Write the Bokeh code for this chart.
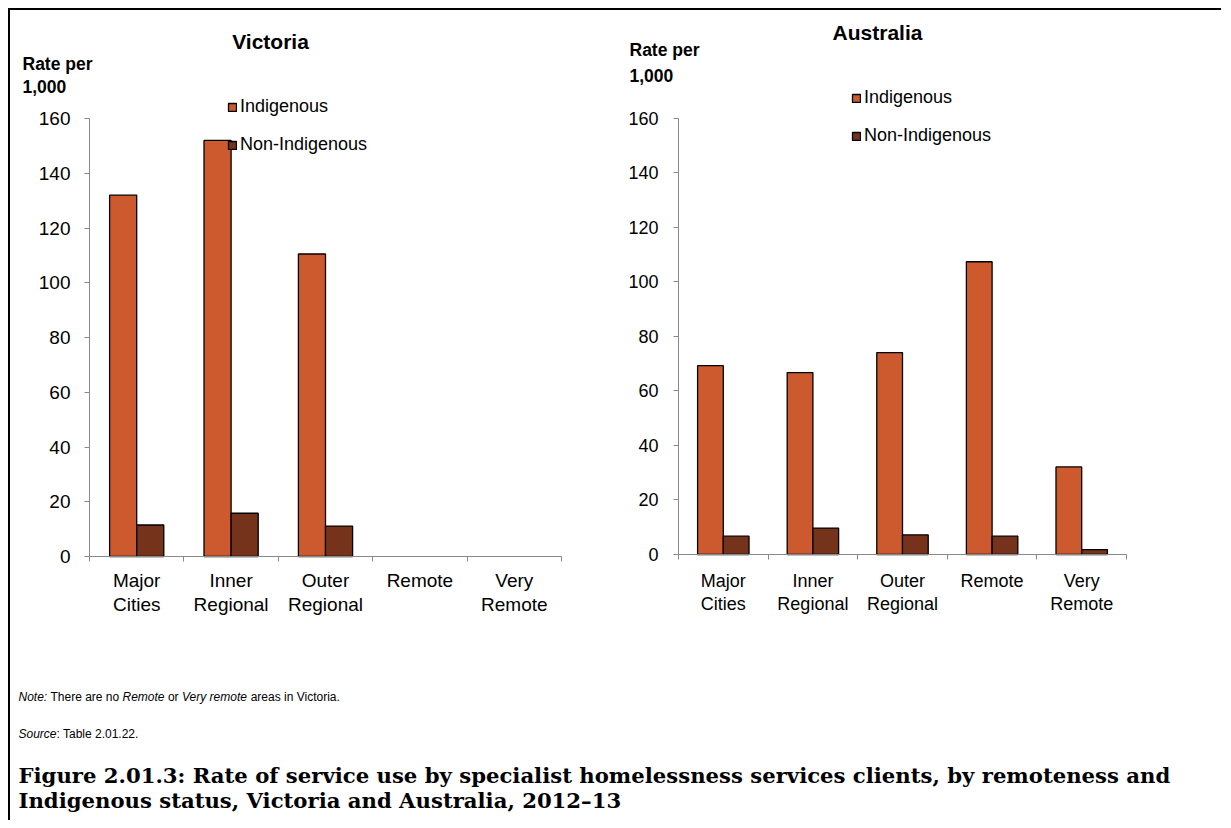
from bokeh.plotting import figure
from bokeh.models import (Range1d, FactorRange, LinearAxis, FixedTicker, Legend,
                          LegendItem, Label, ColumnDataSource)
from bokeh.transform import dodge
from bokeh.layouts import row, column
from bokeh.embed import file_html
from bokeh.resources import INLINE

# ---------------- data ----------------
categories = ["Major Cities", "Inner Regional", "Outer Regional", "Remote", "Very Remote"]
category_labels = ["Major\nCities", "Inner\nRegional", "Outer\nRegional", "Remote", "Very\nRemote"]
series_names = ["Indigenous", "Non-Indigenous"]
y_ticks = [0, 20, 40, 60, 80, 100, 120, 140, 160]

NAN = float("nan")
vic_indigenous = [132.0, 152.0, 110.5, NAN, NAN]
vic_non_indigenous = [11.5, 15.8, 11.1, NAN, NAN]
aus_indigenous = [69.2, 66.7, 74.0, 107.3, 32.1]
aus_non_indigenous = [6.7, 9.7, 7.2, 6.7, 1.8]

# ---------------- style ----------------
IND_COLOR = "#CC5A2E"
NON_COLOR = "#76331B"
AXIS_COLOR = "#898989"
SANS = "Liberation Sans"
SERIF = "DejaVu Serif"


def make_chart(title, ind, non, g):
    src = ColumnDataSource(dict(cat=categories, ind=ind, non=non))
    xr = FactorRange(factors=categories, range_padding=g["pad"], range_padding_units="absolute")
    p = figure(x_range=xr, y_range=Range1d(g["ymin"], g["ymax"]),
               width=g["w"], height=g["h"],
               min_border_left=g["bl"], min_border_right=g["br"],
               min_border_top=0, min_border_bottom=0,
               x_axis_type=None, y_axis_type=None, tools="",
               output_backend="svg", toolbar_location=None)
    p.outline_line_color = None
    p.background_fill_color = None
    p.border_fill_color = None

    r1 = p.vbar(x=dodge("cat", -0.1435, range=p.x_range), top="ind", width=0.287,
                source=src, fill_color=IND_COLOR, line_color="black", line_width=1.3)
    r2 = p.vbar(x=dodge("cat", 0.1435, range=p.x_range), top="non", width=0.287,
                source=src, fill_color=NON_COLOR, line_color="black", line_width=1.3)

    fs = g["fs"]
    n = len(categories)
    yaxis = LinearAxis(ticker=FixedTicker(ticks=y_ticks, minor_ticks=[]),
                       bounds=(y_ticks[0], y_ticks[-1]), fixed_location=0,
                       axis_line_color=AXIS_COLOR, major_tick_line_color=AXIS_COLOR,
                       major_tick_out=5, major_tick_in=0, minor_tick_line_color=None,
                       major_label_standoff=g["ystd"],
                       major_label_text_font=SANS, major_label_text_font_size=fs,
                       major_label_text_color="black")
    p.add_layout(yaxis, "left")

    centers = [i + 0.5 for i in range(n)]
    bounds = [float(i) for i in range(n + 1)]
    xaxis = LinearAxis(ticker=FixedTicker(ticks=centers, minor_ticks=bounds),
                       bounds=(0, n), fixed_location=0,
                       major_label_overrides={c: lab for c, lab in zip(centers, category_labels)},
                       axis_line_color=AXIS_COLOR,
                       major_tick_line_color=None, major_tick_out=0, major_tick_in=0,
                       minor_tick_line_color=AXIS_COLOR, minor_tick_out=5, minor_tick_in=0,
                       major_label_standoff=g["xstd"],
                       major_label_text_font=SANS, major_label_text_font_size=fs,
                       major_label_text_line_height=1.15,
                       major_label_text_color="black")
    p.add_layout(xaxis, "below")

    legend = Legend(items=[LegendItem(label=series_names[0], renderers=[r1]),
                           LegendItem(label=series_names[1], renderers=[r2])],
                    location=g["leg"], orientation="vertical",
                    glyph_width=10, glyph_height=10, label_standoff=3,
                    label_height=20, spacing=g["lsp"], padding=0, margin=0,
                    border_line_color=None, background_fill_alpha=0,
                    label_text_font=SANS, label_text_font_size=g["lfs"],
                    label_text_color="black")
    p.add_layout(legend)

    def lab(x, y, s, size, align):
        p.add_layout(Label(x=x, y=y, x_units="screen", y_units="screen",
                           text=s, text_font=SANS, text_font_style="bold",
                           text_font_size=size, text_align=align, text_baseline="middle",
                           text_color="black"))

    lab(g["title"][0], g["title"][1], title, "21px", "center")
    lab(g["ylab"][0], g["ylab"][1], "Rate per", "17.5px", "left")
    lab(g["ylab"][0], g["ylab"][2], "1,000", "17.5px", "left")
    return p


# Victoria: frame spans page x 22..628, y 10..640; y=0 at 556, y=160 at 118
vic_ppu = 438 / 160
vic = make_chart("Victoria", vic_indigenous, vic_non_indigenous,
                 dict(w=618, h=630, bl=12, br=0, pad=67 / 94.4,
                      ymin=-84 / vic_ppu, ymax=546 / vic_ppu,
                      fs="19px", lfs="18px", leg=(205, 485), lsp=17,
                      ystd=14, xstd=8,
                      title=(248, 599), ylab=(0, 577, 554)))
# Australia: frame spans page x 628..1176, y 10..640; y=0 at 554, y=160 at 117.5
aus_ppu = 436.5 / 160
aus = make_chart("Australia", aus_indigenous, aus_non_indigenous,
                 dict(w=593, h=630, bl=0, br=45, pad=50 / 89.6,
                      ymin=-86 / aus_ppu, ymax=544 / aus_ppu,
                      fs="18px", lfs="18px", leg=(223, 494), lsp=17,
                      ystd=15, xstd=11,
                      title=(249, 608.5), ylab=(1, 591, 565)))

# ---------------- notes / caption ----------------
notes = figure(width=1211, height=180, x_range=Range1d(0, 1211), y_range=Range1d(180, 0),
               min_border=0, x_axis_type=None, y_axis_type=None, tools="",
               output_backend="svg", toolbar_location=None)
notes.outline_line_color = None
notes.background_fill_color = None
notes.border_fill_color = None


def txt(x, y, s, size="12px", style="normal", font=SANS):
    notes.add_layout(Label(x=x, y=y, text=s, text_font=font, text_font_style=style,
                           text_font_size=size, text_align="left", text_baseline="middle",
                           text_color="black"))


txt(8, 56, "Note:", style="italic")
txt(40, 56, "There are no")
txt(112, 56, "Remote", style="italic")
txt(157.4, 56, "or")
txt(171.5, 56, "Very remote", style="italic")
txt(240.2, 56, "areas in Victoria.")
txt(8, 93, "Source", style="italic")
txt(46, 93, ": Table 2.01.22.")
txt(8, 135, "Figure 2.01.3: Rate of service use by specialist homelessness services clients, by remoteness and",
    size="21.2px", style="bold", font=SERIF)
txt(8, 160, "Indigenous status, Victoria and Australia, 2012\u201313",
    size="21.2px", style="bold", font=SERIF)

layout = column(row(vic, aus), notes,
                styles={"margin-left": "8px", "margin-top": "8px",
                        "border-left": "2px solid black", "border-top": "2px solid black"})

open("out.html", "w").write(file_html(layout, INLINE))
